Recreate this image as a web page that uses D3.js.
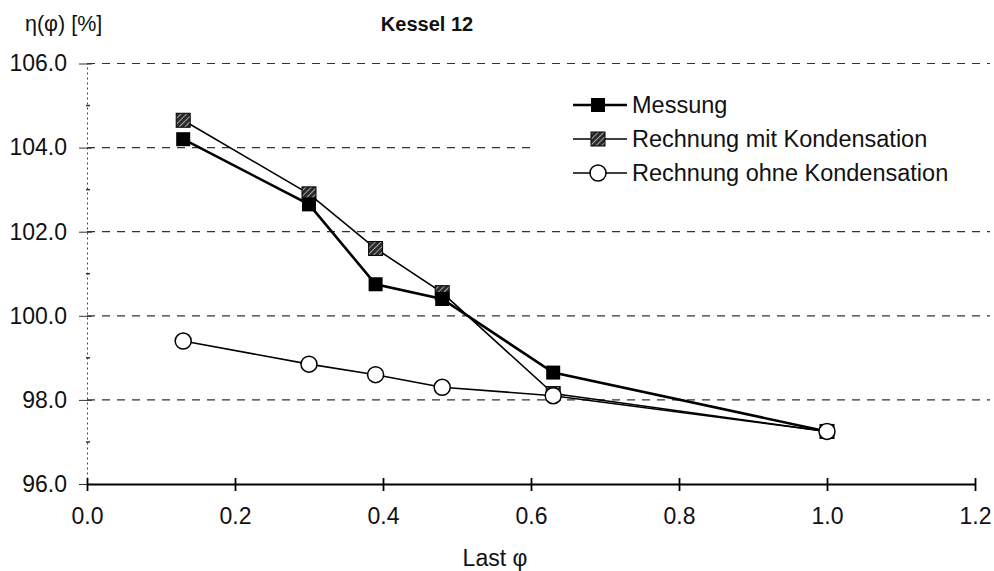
<!DOCTYPE html>
<html>
<head>
<meta charset="utf-8">
<script src="https://cdn.jsdelivr.net/npm/d3@7/dist/d3.min.js"></script>
<style>
  html, body { margin: 0; padding: 0; background: #fff; }
  svg { display: block; font-family: "Liberation Sans", Arial, Helvetica, sans-serif; }
</style>
</head>
<body>
<svg id="chart" width="994" height="571"></svg>
<script>
// ---- data ----
const loads = [0.13, 0.30, 0.39, 0.48, 0.63, 1.0];
const messung = [104.2, 102.65, 100.75, 100.4, 98.65, 97.25];
const mitKondensation = [104.65, 102.9, 101.6, 100.55, 98.15, 97.25];
const ohneKondensation = [99.4, 98.85, 98.6, 98.3, 98.1, 97.25];
const seriesNames = ["Messung", "Rechnung mit Kondensation", "Rechnung ohne Kondensation"];
const xTicks = [0.0, 0.2, 0.4, 0.6, 0.8, 1.0, 1.2];
const yTicks = [96, 98, 100, 102, 104, 106];
const yMinorTicks = [97, 99, 101, 103, 105];
const title = "Kessel 12";
const yTitle = "η(φ) [%]";
const xTitle = "Last φ";

// ---- layout ----
const svg = d3.select("#chart");
const x = d3.scaleLinear().domain([0, 1.2]).range([87, 975]);
const y = d3.scaleLinear().domain([96, 106]).range([484, 63.5]);
const FS = 23;

const defs = svg.append("defs");
const pat = defs.append("pattern").attr("id", "hatch").attr("patternUnits", "userSpaceOnUse")
  .attr("width", 4).attr("height", 4).attr("patternTransform", "rotate(45)");
pat.append("rect").attr("width", 4).attr("height", 4).attr("fill", "#2a2a2a");
pat.append("line").attr("x1", 0).attr("y1", 0).attr("x2", 0).attr("y2", 4)
  .attr("stroke", "#d8d8d8").attr("stroke-width", 1.4);

// gridlines
svg.append("g").selectAll("line").data(yTicks.filter(d => d > 96)).join("line")
  .attr("x1", x(0)).attr("x2", 990)
  .attr("y1", d => y(d)).attr("y2", d => y(d))
  .attr("stroke", "#333").attr("stroke-width", 1.2)
  .attr("stroke-dasharray", "8,7");

// y axis (dotted)
const yAxis = d3.axisLeft(y).tickValues(yTicks).tickFormat(d3.format(".1f")).tickSize(0).tickPadding(20);
const gy = svg.append("g").attr("transform", `translate(${x(0)},0)`).call(yAxis);
gy.select(".domain").attr("stroke", "#444").attr("stroke-width", 1).attr("stroke-dasharray", "2,3");
gy.selectAll(".tick text").attr("font-size", FS).attr("fill", "#111")
  .attr("font-family", '"Liberation Sans", Arial, sans-serif');
gy.selectAll(".tick").append("line").attr("x1", -8).attr("x2", 5).attr("stroke", "#333").attr("stroke-width", 1);
svg.append("g").selectAll("line").data(yMinorTicks).join("line")
  .attr("x1", x(0) - 1).attr("x2", x(0) + 3)
  .attr("y1", d => y(d)).attr("y2", d => y(d))
  .attr("stroke", "#333").attr("stroke-width", 1.5);

// x axis
const xAxis = d3.axisBottom(x).tickValues(xTicks).tickFormat(d3.format(".1f")).tickSize(0).tickPadding(24);
const gx = svg.append("g").attr("transform", `translate(0,${y(96)})`).call(xAxis);
gx.select(".domain").attr("stroke", "#000").attr("stroke-width", 2.2);
gx.selectAll(".tick text").attr("font-size", FS).attr("fill", "#111")
  .attr("font-family", '"Liberation Sans", Arial, sans-serif');
gx.selectAll(".tick").append("line").attr("y1", -6).attr("y2", 7).attr("stroke", "#000").attr("stroke-width", 1.8);

// legend background (covers gridline)
svg.append("rect").attr("x", 535).attr("y", 80).attr("width", 455).attr("height", 115).attr("fill", "#fff");

// series
const line = d3.line().x(d => x(d[0])).y(d => y(d[1]));
const mk = vals => loads.map((l, i) => [l, vals[i]]);
const dM = mk(messung), dK = mk(mitKondensation), dO = mk(ohneKondensation);

svg.append("path").datum(dO).attr("d", line).attr("fill", "none").attr("stroke", "#000").attr("stroke-width", 1.6);
svg.append("path").datum(dK).attr("d", line).attr("fill", "none").attr("stroke", "#000").attr("stroke-width", 1.6);
svg.append("path").datum(dM).attr("d", line).attr("fill", "none").attr("stroke", "#000").attr("stroke-width", 2.6);

const sq = 14;
svg.append("g").selectAll("rect").data(dK).join("rect")
  .attr("x", d => x(d[0]) - sq / 2).attr("y", d => y(d[1]) - sq / 2)
  .attr("width", sq).attr("height", sq).attr("fill", "url(#hatch)").attr("stroke", "#000").attr("stroke-width", 1);
svg.append("g").selectAll("rect").data(dM).join("rect")
  .attr("x", d => x(d[0]) - sq / 2).attr("y", d => y(d[1]) - sq / 2)
  .attr("width", sq).attr("height", sq).attr("fill", "#000");
svg.append("g").selectAll("circle").data(dO).join("circle")
  .attr("cx", d => x(d[0])).attr("cy", d => y(d[1])).attr("r", 8)
  .attr("fill", "#fff").attr("stroke", "#000").attr("stroke-width", 1.5);

// legend
const legY = [105, 139, 173];
const lg = svg.append("g");
seriesNames.forEach((name, i) => {
  const yy = legY[i];
  lg.append("line").attr("x1", 573).attr("x2", 627).attr("y1", yy).attr("y2", yy)
    .attr("stroke", "#000").attr("stroke-width", i === 0 ? 2.6 : 1.6);
  if (i === 0) {
    lg.append("rect").attr("x", 598 - 7).attr("y", yy - 7).attr("width", 14).attr("height", 14).attr("fill", "#000");
  } else if (i === 1) {
    lg.append("rect").attr("x", 598 - 7).attr("y", yy - 7).attr("width", 14).attr("height", 14)
      .attr("fill", "url(#hatch)").attr("stroke", "#000");
  } else {
    lg.append("circle").attr("cx", 598).attr("cy", yy).attr("r", 8).attr("fill", "#fff").attr("stroke", "#000").attr("stroke-width", 1.5);
  }
  lg.append("text").attr("x", 632).attr("y", yy).attr("dy", "0.35em")
    .attr("font-size", 23.5).attr("fill", "#111").text(name);
});

// titles
svg.append("text").attr("x", 427).attr("y", 31).attr("text-anchor", "middle")
  .attr("font-size", 20).attr("font-weight", "bold").attr("fill", "#111").text(title);
svg.append("text").attr("x", 25).attr("y", 31)
  .attr("font-size", 21.5).attr("fill", "#111").text(yTitle);
svg.append("text").attr("x", 495).attr("y", 566).attr("text-anchor", "middle")
  .attr("font-size", 23).attr("fill", "#111").text(xTitle);
</script>
</body>
</html>
